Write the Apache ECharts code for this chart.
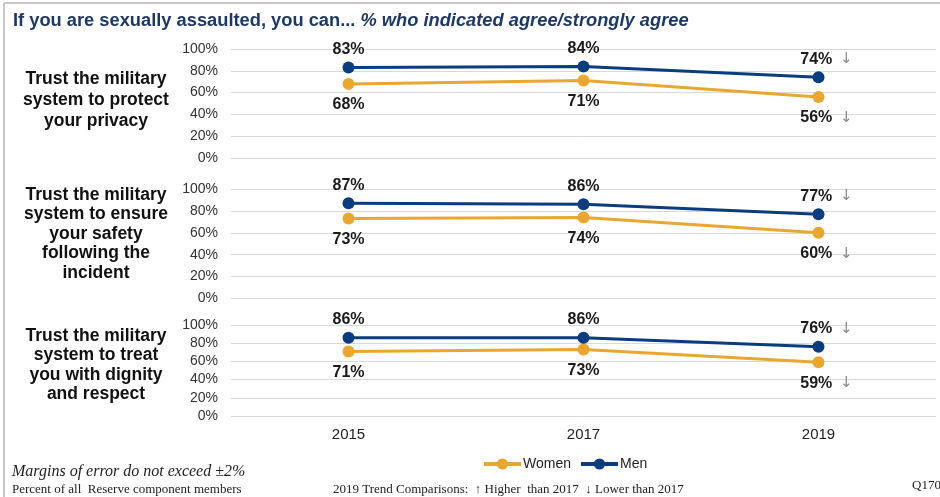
<!DOCTYPE html>
<html><head><meta charset="utf-8">
<script src="https://cdn.jsdelivr.net/npm/echarts@6/dist/echarts.min.js"></script>
<style>html,body{margin:0;padding:0;background:#fff}#c{width:940px;height:497px}</style>
</head><body><div id="c"></div>
<script>
// ---- data ----
const years = ['2015', '2017', '2019'];
const yTickMin = 0, yTickMax = 100, yTickStep = 20;
const panelTitles = [
  'Trust the military\nsystem to protect\nyour privacy',
  'Trust the military\nsystem to ensure\nyour safety\nfollowing the\nincident',
  'Trust the military\nsystem to treat\nyou with dignity\nand respect'
];
const privacyWomen = [68, 71, 56];
const privacyMen   = [83, 84, 74];
const safetyWomen  = [73, 74, 60];
const safetyMen    = [87, 86, 77];
const dignityWomen = [71, 73, 59];
const dignityMen   = [86, 86, 76];
const privacyWomenTrend = ['', '', '↓'];
const privacyMenTrend   = ['', '', '↓'];
const safetyWomenTrend  = ['', '', '↓'];
const safetyMenTrend    = ['', '', '↓'];
const dignityWomenTrend = ['', '', '↓'];
const dignityMenTrend   = ['', '', '↓'];
const seriesNames = ['Women', 'Men'];

// ---- layout / style ----
const WOMEN = '#E9A630', MEN = '#0B3C7D';
const grids = [
  {left: 231, right: 4, top: 49, height: 109},
  {left: 231, right: 4, top: 189, height: 109.5},
  {left: 231, right: 4, top: 325, height: 91}
];
const panels = [
  {women: privacyWomen, men: privacyMen, wt: privacyWomenTrend, mt: privacyMenTrend},
  {women: safetyWomen, men: safetyMen, wt: safetyWomenTrend, mt: safetyMenTrend},
  {women: dignityWomen, men: dignityMen, wt: dignityWomenTrend, mt: dignityMenTrend}
];
const titleCenters = [{y: 100, lh: 21}, {y: 234, lh: 19.5}, {y: 365, lh: 19.5}];

function mkData(vals, trend) {
  return vals.map((v, i) => trend[i] ? {value: v, label: {offset: [8, 0]}} : v);
}
function mkLabel(trend, pos, dist) {
  return {
    show: true, position: pos, distance: dist,
    formatter: p => trend[p.dataIndex] ? '{v|' + p.value + '%}{a| ' + trend[p.dataIndex] + '}' : '{v|' + p.value + '%}',
    rich: {
      v: {fontFamily: 'Arial', fontWeight: 'bold', fontSize: 16, color: '#1a1a1a'},
      a: {fontFamily: '"DejaVu Sans", Arial', fontSize: 15, color: '#8a8a8a', padding: [0, 0, 0, 3]}
    }
  };
}

const xAxis = [], yAxis = [], series = [];
grids.forEach((g, i) => {
  xAxis.push({
    type: 'category', gridIndex: i, data: years, boundaryGap: true,
    axisLine: {show: false}, axisTick: {show: false},
    axisLabel: {show: i === 2, fontFamily: 'Arial', fontSize: 15, color: '#222', margin: 11}
  });
  yAxis.push({
    type: 'value', gridIndex: i, min: yTickMin, max: yTickMax, interval: yTickStep,
    axisLine: {show: false}, axisTick: {show: false},
    axisLabel: {formatter: '{value}%', fontFamily: 'Arial', fontSize: 14, color: '#333', margin: 13},
    splitLine: {lineStyle: {color: '#d9d9d9', width: 1}}
  });
  const p = panels[i];
  series.push({
    name: seriesNames[0], type: 'line', xAxisIndex: i, yAxisIndex: i,
    data: mkData(p.women, p.wt), symbol: 'circle', symbolSize: 12,
    lineStyle: {color: WOMEN, width: 3}, itemStyle: {color: WOMEN},
    label: mkLabel(p.wt, 'bottom', 7), z: 3
  });
  series.push({
    name: seriesNames[1], type: 'line', xAxisIndex: i, yAxisIndex: i,
    data: mkData(p.men, p.mt), symbol: 'circle', symbolSize: 12,
    lineStyle: {color: MEN, width: 3}, itemStyle: {color: MEN},
    label: mkLabel(p.mt, 'top', 4), z: 4
  });
});

const graphic = [
  {type: 'line', shape: {x1: 4, y1: 3, x2: 940, y2: 3}, style: {stroke: '#c8c8c8', lineWidth: 2}},
  {type: 'line', shape: {x1: 4, y1: 3, x2: 4, y2: 497}, style: {stroke: '#c8c8c8', lineWidth: 2}},
  {type: 'text', x: 12, y: 472, style: {text: 'Margins of error do not exceed ±2%', font: 'italic 16px "Liberation Serif", "Times New Roman", serif', fill: '#222', textVerticalAlign: 'middle'}},
  {type: 'text', x: 12, y: 490, style: {text: 'Percent of all  Reserve component members', font: '13px "Liberation Serif", "Times New Roman", serif', fill: '#222', textVerticalAlign: 'middle'}},
  {type: 'text', x: 333, y: 490, style: {text: '2019 Trend Comparisons:  ↑ Higher  than 2017  ↓ Lower than 2017', font: '13px "Liberation Serif", "Times New Roman", serif', fill: '#222', textVerticalAlign: 'middle'}},
  {type: 'text', x: 912, y: 486, style: {text: 'Q170', font: '13px "Liberation Serif", "Times New Roman", serif', fill: '#222', textVerticalAlign: 'middle'}}
];
panelTitles.forEach((t, i) => {
  graphic.push({type: 'text', x: 96, y: titleCenters[i].y, style: {
    text: t, font: 'bold 17.5px Arial', fill: '#111', textAlign: 'center', textVerticalAlign: 'middle', lineHeight: titleCenters[i].lh
  }});
});

const chart = echarts.init(document.getElementById('c'), null, {renderer: 'canvas'});
chart.setOption({
  backgroundColor: '#fff',
  animation: false,
  title: {
    left: 8, top: 7,
    text: '{a|If you are sexually assaulted, you can... }{b|% who indicated agree/strongly agree}',
    textStyle: {
      rich: {
        a: {fontFamily: 'Arial', fontWeight: 'bold', fontSize: 18.3, color: '#1F3864'},
        b: {fontFamily: 'Arial', fontWeight: 'bold', fontStyle: 'italic', fontSize: 18.3, color: '#1F3864'}
      }
    }
  },
  legend: {
    data: seriesNames, left: 477, top: 452, itemWidth: 37, itemHeight: 14, itemGap: 8,
    lineStyle: {width: 4},
    textStyle: {fontFamily: 'Arial', fontSize: 14, color: '#222', padding: [0, 0, 0, -3]}
  },
  grid: grids,
  xAxis: xAxis,
  yAxis: yAxis,
  series: series,
  graphic: graphic
});
</script>
</body></html>
